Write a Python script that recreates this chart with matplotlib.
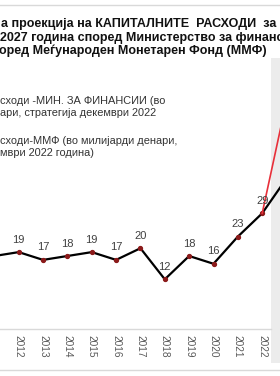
import matplotlib
matplotlib.use('Agg')
import matplotlib.pyplot as plt
from matplotlib.patches import Rectangle
from matplotlib.lines import Line2D

plt.rcParams['font.family'] = ['Liberation Sans', 'DejaVu Sans']

# data (chart is cropped on both sides)
years = [2011, 2012, 2013, 2014, 2015, 2016, 2017, 2018, 2019, 2020, 2021, 2022, 2023]
mof = [18, 19, 17, 18, 19, 17, 20, 12, 18, 16, 23, 29, 38]
imf_years = [2022, 2023]
imf = [29, 58]
tick_years = list(range(2011, 2024))

title_lines = [
    "а проекција на КАПИТАЛНИТЕ  РАСХОДИ  за периодот",
    "2027 година според Министерство за финансии",
    "оред Меѓународен Монетарен Фонд (ММФ)",
]
legend_lines = [
    "сходи -МИН. ЗА ФИНАНСИИ (во",
    "ари, стратегија декември 2022",
    "сходи-ММФ (во милијарди денари,",
    "мври 2022 година)",
]

W, H = 280, 376
fig = plt.figure(figsize=(W / 100, H / 100), dpi=100)

def fx(px):
    return px / W

def fy(py):
    return 1 - py / H

# frame lines and grey panel on the right
fig.add_artist(Line2D([0, 1], [fy(5), fy(5)], color='#d9d9d9', lw=1))
fig.add_artist(Line2D([0, 1], [fy(370), fy(370)], color='#d9d9d9', lw=1))
fig.add_artist(Rectangle((fx(271), fy(363)), fx(9), fy(58) - fy(363),
                         color='#ececec', lw=0, zorder=0))

# axes: 2012 at x=18.7px, step 24.35px; axis line at y=329px
step = 24.35
x0 = 2012 - 18.7 / step
x1 = 2012 + (271 - 18.7) / step
ax = fig.add_axes([0, fy(329), fx(271), fy(58) - fy(329)])
for s in ['top', 'right', 'left']:
    ax.spines[s].set_visible(False)
ax.spines['bottom'].set_color('#d9d9d9')
ax.spines['bottom'].set_linewidth(1)
ax.set_yticks([])
ax.set_xticks(tick_years)
ax.set_xticklabels([str(y) for y in tick_years], rotation=270, fontsize=7.3,
                   color='#595959')
ax.tick_params(axis='x', length=0, pad=4.5)
ax.set_xlim(x0, x1)
ax.set_ylim(-0.8, 69)
ax.patch.set_alpha(0)

ax.plot(years, mof, color='black', lw=1.6, zorder=3,
        marker='o', markersize=2.8, markerfacecolor='#8b1a1a',
        markeredgecolor='#8b1a1a', clip_on=False)
ax.plot(imf_years, imf, color='#e8303a', lw=1.2, zorder=4, clip_on=False)

for x, v in zip(years[:-1], mof[:-1]):
    ax.annotate(str(v), (x, v), xytext=(0, 9), textcoords='offset points',
                ha='center', va='center', fontsize=8, color='#404040',
                annotation_clip=False, zorder=5)

# title (left part cropped)
for i, (txt, px) in enumerate(zip(title_lines, [1, 0, -1])):
    fig.text(fx(px), fy(24 + i * 13.5), txt, fontsize=9, fontweight='bold',
             color='#111111', ha='left', va='center')

# legend text (handles cropped away)
for txt, py in zip(legend_lines, [101, 113, 141, 153]):
    fig.text(fx(0), fy(py), txt, fontsize=7.9, color='#333333',
             ha='left', va='center')

fig.savefig('out.png', dpi=100)
